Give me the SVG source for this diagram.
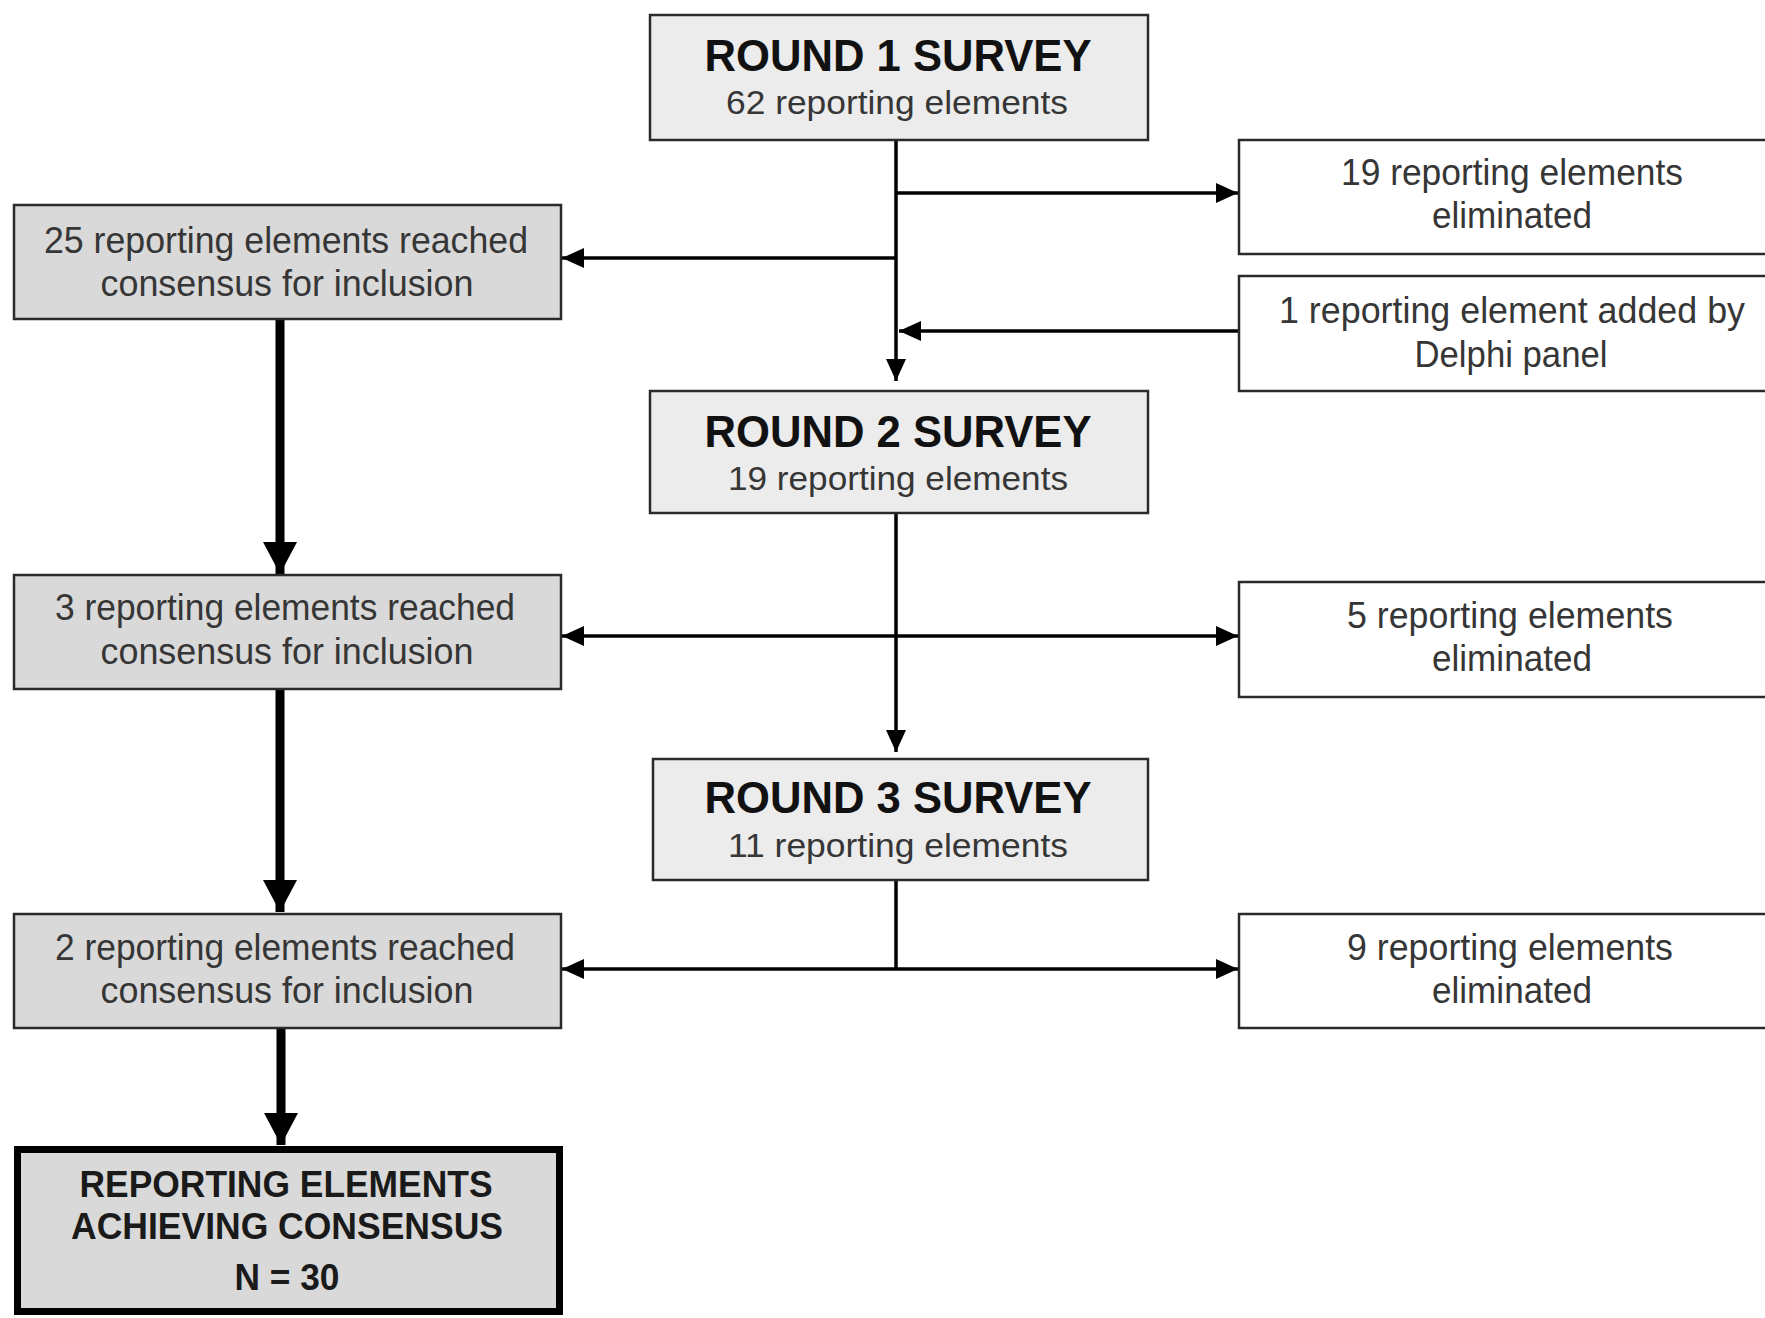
<svg xmlns="http://www.w3.org/2000/svg" width="1765" height="1318" viewBox="0 0 1765 1318">
<style>
.round{fill:#ececec;stroke:#2a2a2a;stroke-width:2.5}
.incl{fill:#d9d9d9;stroke:#2a2a2a;stroke-width:2.5}
.elim{fill:#ffffff;stroke:#2a2a2a;stroke-width:2.5}
.final{fill:#d9d9d9;stroke:#000;stroke-width:7}
.title{font-family:"Liberation Sans",Arial,sans-serif;font-weight:bold;font-size:44px;fill:#111;text-anchor:middle}
.sub{font-family:"Liberation Sans",Arial,sans-serif;font-size:34px;fill:#363636;text-anchor:middle}
.body{font-family:"Liberation Sans",Arial,sans-serif;font-size:36px;fill:#363636;text-anchor:middle}
.fin{font-family:"Liberation Sans",Arial,sans-serif;font-weight:bold;font-size:36px;fill:#1a1a1a;text-anchor:middle}
.thin{stroke:#000;stroke-width:3.5;fill:none}
.thick{stroke:#000;stroke-width:9;fill:none}
</style>
<defs>
<marker id="ah" markerUnits="userSpaceOnUse" markerWidth="22" markerHeight="22" viewBox="0 0 22 22" refX="22" refY="11" orient="auto-start-reverse">
<path d="M0,1 L22,11 L0,21 Z" fill="#000"/>
</marker>
<marker id="ahT" markerUnits="userSpaceOnUse" markerWidth="32" markerHeight="34" viewBox="0 0 32 34" refX="32" refY="17" orient="auto">
<path d="M0,0 L32,17 L0,34 Z" fill="#000"/>
</marker>
</defs>
<rect width="1765" height="1318" fill="#ffffff"/>

<g id="connectors">
<line class="thin" x1="896" y1="140" x2="896" y2="381" marker-end="url(#ah)"/>
<line class="thin" x1="896" y1="193" x2="1238" y2="193" marker-end="url(#ah)"/>
<line class="thin" x1="896" y1="258" x2="562" y2="258" marker-end="url(#ah)"/>
<line class="thin" x1="1239" y1="331" x2="899" y2="331" marker-end="url(#ah)"/>
<line class="thin" x1="896" y1="513" x2="896" y2="752" marker-end="url(#ah)"/>
<line class="thin" x1="562" y1="636" x2="1238" y2="636" marker-start="url(#ah)" marker-end="url(#ah)"/>
<line class="thin" x1="896" y1="880" x2="896" y2="969"/>
<line class="thin" x1="562" y1="969" x2="1238" y2="969" marker-start="url(#ah)" marker-end="url(#ah)"/>
<line class="thick" x1="280" y1="319" x2="280" y2="574" marker-end="url(#ahT)"/>
<line class="thick" x1="280" y1="689" x2="280" y2="912" marker-end="url(#ahT)"/>
<line class="thick" x1="281" y1="1028" x2="281" y2="1145" marker-end="url(#ahT)"/>
</g>

<g id="round1">
<rect class="round" x="650" y="15" width="498" height="125"/>
<text class="title" x="898" y="71" textLength="387" lengthAdjust="spacingAndGlyphs">ROUND 1 SURVEY</text>
<text class="sub" x="897" y="114" textLength="342" lengthAdjust="spacingAndGlyphs">62 reporting  elements</text>
</g>

<g id="elim19">
<rect class="elim" x="1239" y="140" width="560" height="114"/>
<text class="body" x="1512" y="185" textLength="342" lengthAdjust="spacingAndGlyphs">19 reporting  elements</text>
<text class="body" x="1512" y="228" textLength="160" lengthAdjust="spacingAndGlyphs">eliminated</text>
</g>

<g id="incl25">
<rect class="incl" x="14" y="205" width="547" height="114"/>
<text class="body" x="286" y="253" textLength="484" lengthAdjust="spacingAndGlyphs">25 reporting  elements  reached</text>
<text class="body" x="287" y="296" textLength="373" lengthAdjust="spacingAndGlyphs">consensus for inclusion</text>
</g>

<g id="added1">
<rect class="elim" x="1239" y="276" width="560" height="115"/>
<text class="body" x="1512" y="323" textLength="466" lengthAdjust="spacingAndGlyphs">1 reporting  element  added  by</text>
<text class="body" x="1511" y="367" textLength="193" lengthAdjust="spacingAndGlyphs">Delphi  panel</text>
</g>

<g id="round2">
<rect class="round" x="650" y="391" width="498" height="122"/>
<text class="title" x="898" y="447" textLength="387" lengthAdjust="spacingAndGlyphs">ROUND 2 SURVEY</text>
<text class="sub" x="898" y="490" textLength="340" lengthAdjust="spacingAndGlyphs">19 reporting  elements</text>
</g>

<g id="incl3">
<rect class="incl" x="14" y="575" width="547" height="114"/>
<text class="body" x="285" y="620" textLength="460" lengthAdjust="spacingAndGlyphs">3 reporting  elements  reached</text>
<text class="body" x="287" y="664" textLength="373" lengthAdjust="spacingAndGlyphs">consensus for inclusion</text>
</g>

<g id="elim5">
<rect class="elim" x="1239" y="582" width="560" height="115"/>
<text class="body" x="1510" y="628" textLength="326" lengthAdjust="spacingAndGlyphs">5 reporting  elements</text>
<text class="body" x="1512" y="671" textLength="160" lengthAdjust="spacingAndGlyphs">eliminated</text>
</g>

<g id="round3">
<rect class="round" x="653" y="759" width="495" height="121"/>
<text class="title" x="898" y="813" textLength="387" lengthAdjust="spacingAndGlyphs">ROUND 3 SURVEY</text>
<text class="sub" x="898" y="857" textLength="340" lengthAdjust="spacingAndGlyphs">11 reporting  elements</text>
</g>

<g id="incl2">
<rect class="incl" x="14" y="914" width="547" height="114"/>
<text class="body" x="285" y="960" textLength="460" lengthAdjust="spacingAndGlyphs">2 reporting  elements  reached</text>
<text class="body" x="287" y="1003" textLength="373" lengthAdjust="spacingAndGlyphs">consensus for inclusion</text>
</g>

<g id="elim9">
<rect class="elim" x="1239" y="914" width="560" height="114"/>
<text class="body" x="1510" y="960" textLength="326" lengthAdjust="spacingAndGlyphs">9 reporting  elements</text>
<text class="body" x="1512" y="1003" textLength="160" lengthAdjust="spacingAndGlyphs">eliminated</text>
</g>

<g id="final">
<rect class="final" x="17.5" y="1149.5" width="542" height="162"/>
<text class="fin" x="286" y="1197" textLength="413" lengthAdjust="spacingAndGlyphs">REPORTING  ELEMENTS</text>
<text class="fin" x="287" y="1239" textLength="432" lengthAdjust="spacingAndGlyphs">ACHIEVING  CONSENSUS</text>
<text class="fin" x="287" y="1290" textLength="105" lengthAdjust="spacingAndGlyphs">N = 30</text>
</g>
</svg>
